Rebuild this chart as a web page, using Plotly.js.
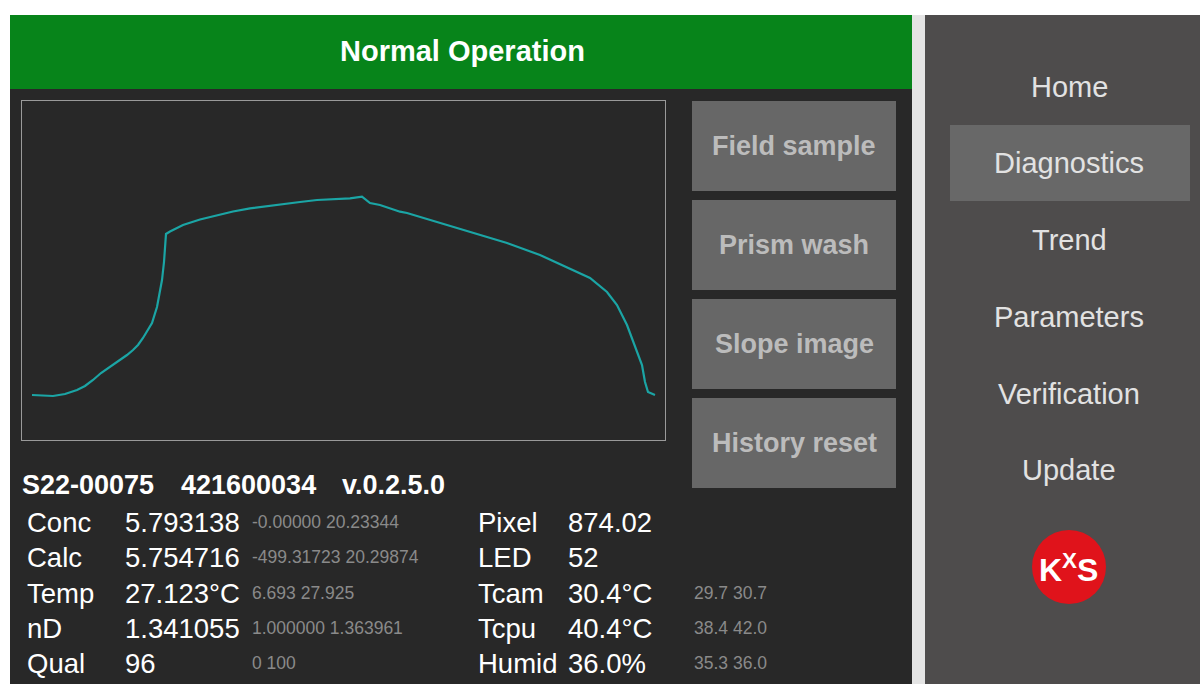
<!DOCTYPE html>
<html>
<head>
<meta charset="utf-8">
<script src="https://cdn.plot.ly/plotly-3.0.1.min.js"></script>
<style>
html,body{margin:0;padding:0;background:#fff;overflow:hidden;}
#chart{width:1200px;height:684px;}
</style>
</head>
<body>
<div id="chart"></div>
<script>
// ---- Data ----
const profileX = [10,20,31,43,55,63,71,79,88,98,105,111,116,121,126,130,135,138,140,142,143,144,
  148,161,178,195,211,228,245,261,278,295,311,328,340,348,358,378,385,
  418,451,485,518,545,568,585,595,605,615,620,623,626,633];
const profileY = [45,44.5,44,46,50,54,60,67,73,80,85,90,95,102,110,117,133,148,160,178,195,206,
  208.5,215,220.5,225,228.5,231.7,234,236,238,240,241,241.7,243.3,237,235,228.3,227,
  217,207,197,185,173,162,148,135,115,88,75,58,48,45];

const statusTitle = 'Normal Operation';
const idParts = ['S22-00075', '421600034', 'v.0.2.5.0'];
const labelsLeft = ['Conc', 'Calc', 'Temp', 'nD', 'Qual'];
const valuesLeft = ['5.793138', '5.754716', '27.123°C', '1.341055', '96'];
const rangesLeft = ['-0.00000 20.23344', '-499.31723 20.29874', '6.693 27.925', '1.000000 1.363961', '0 100'];
const labelsRight = ['Pixel', 'LED', 'Tcam', 'Tcpu', 'Humid'];
const valuesRight = ['874.02', '52', '30.4°C', '40.4°C', '36.0%'];
const rangesRight = ['', '', '29.7 30.7', '38.4 42.0', '35.3 36.0'];
const buttonLabels = ['Field sample', 'Prism wash', 'Slope image', 'History reset'];
const navItems = ['Home', 'Diagnostics', 'Trend', 'Parameters', 'Verification', 'Update'];
const activeNav = 'Diagnostics';

// ---- Layout helpers (pixel -> paper) ----
const W = 1200, H = 684;
const px = x => x / W;
const py = y => 1 - y / H;
const FONT = 'Liberation Sans, Arial, sans-serif';

function rect(x0, y0, x1, y1, color) {
  return {type: 'rect', xref: 'paper', yref: 'paper', x0: px(x0), x1: px(x1), y0: py(y1), y1: py(y0),
    fillcolor: color, line: {width: 0}, layer: 'below'};
}
function text(t, x, y, size, color, anchor, bold) {
  return {text: bold ? '<b>' + t + '</b>' : t, xref: 'paper', yref: 'paper', x: px(x), y: py(y),
    xanchor: anchor || 'left', yanchor: 'middle', showarrow: false, borderpad: 0,
    font: {family: FONT, size: size, color: color}};
}

const shapes = [];
const annotations = [];

// backgrounds
shapes.push(rect(10, 15, 912, 89, '#07841a'));
shapes.push(rect(10, 89, 912, 684, '#282828'));
shapes.push(rect(912, 15, 925, 684, '#e4e4e4'));
shapes.push(rect(925, 15, 1200, 684, '#4e4c4c'));

// header
annotations.push(text(statusTitle, 462, 51, 29, '#ffffff', 'center', true));

// buttons
const btnTop = [101, 200, 299, 398];
buttonLabels.forEach((b, i) => {
  shapes.push(rect(692, btnTop[i], 896, btnTop[i] + 90, '#676767'));
  annotations.push(text(b, 794, btnTop[i] + 45, 27, '#bcbcbc', 'center', true));
});

// id line
const idX = [21, 180, 341];
idParts.forEach((t, i) => annotations.push(text(t, idX[i], 485, 27, '#ffffff', 'left', true)));

// data rows
const rowY = [522, 557, 593, 628, 663];
labelsLeft.forEach((t, i) => {
  annotations.push(text(t, 26, rowY[i], 27.5, '#ffffff'));
  annotations.push(text(valuesLeft[i], 124, rowY[i], 27.5, '#ffffff'));
  annotations.push(text(rangesLeft[i], 251, rowY[i], 17.5, '#8a8a8a'));
});
labelsRight.forEach((t, i) => {
  annotations.push(text(t, 477, rowY[i], 27.5, '#ffffff'));
  annotations.push(text(valuesRight[i], 567, rowY[i], 27.5, '#ffffff'));
  if (rangesRight[i]) annotations.push(text(rangesRight[i], 693, rowY[i], 17.5, '#8a8a8a'));
});

// navigation
const navY = [87, 163, 240, 317, 394, 470];
navItems.forEach((t, i) => {
  if (t === activeNav) shapes.push(rect(950, navY[i] - 38, 1190, navY[i] + 38, '#686868'));
  annotations.push(text(t, 1069, navY[i], 29, '#e2e2e2', 'center'));
});

// logo
shapes.push({type: 'circle', xref: 'paper', yref: 'paper', x0: px(1032), x1: px(1106), y0: py(604), y1: py(530),
  fillcolor: '#e0131b', line: {width: 0}, layer: 'below'});
annotations.push({text: '<b>K<sup>X</sup>S</b>', xref: 'paper', yref: 'paper',
  x: px(1068), y: py(568), xanchor: 'center', yanchor: 'middle', showarrow: false, borderpad: 0,
  font: {family: FONT, size: 32, color: '#ffffff'}});

const trace = {
  x: profileX, y: profileY, type: 'scatter', mode: 'lines',
  line: {color: '#1ba5a5', width: 2.2}, hoverinfo: 'skip'
};

const layout = {
  width: W, height: H,
  margin: {l: 0, r: 0, t: 0, b: 0},
  paper_bgcolor: '#ffffff',
  plot_bgcolor: 'rgba(0,0,0,0)',
  showlegend: false,
  xaxis: {domain: [px(22), px(665)], range: [0, 643], showgrid: false, zeroline: false,
    showticklabels: false, ticks: '', showline: true, mirror: true, linecolor: '#9a9a9a', linewidth: 1, fixedrange: true},
  yaxis: {domain: [py(440), py(101)], range: [0, 339], showgrid: false, zeroline: false,
    showticklabels: false, ticks: '', showline: true, mirror: true, linecolor: '#9a9a9a', linewidth: 1, fixedrange: true},
  shapes: shapes,
  annotations: annotations
};

Plotly.newPlot('chart', [trace], layout, {displayModeBar: false, staticPlot: true});
</script>
</body>
</html>
